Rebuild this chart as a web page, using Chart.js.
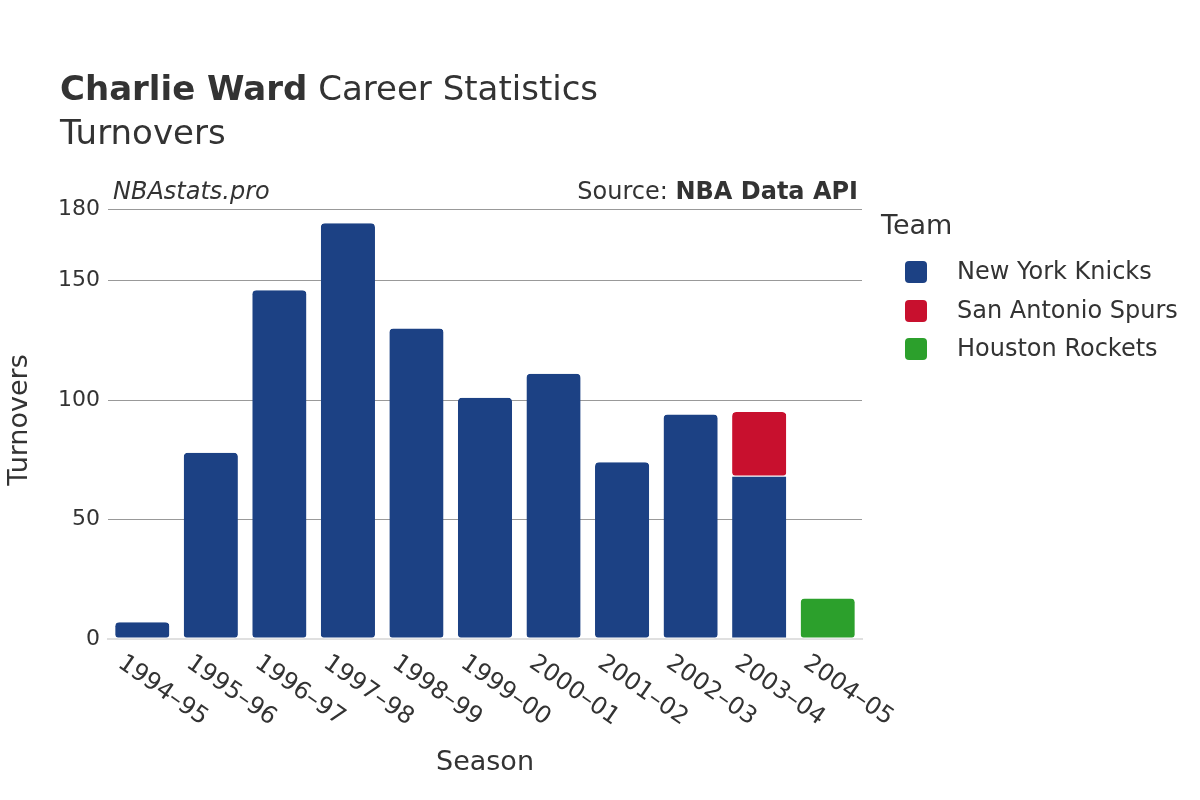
<!DOCTYPE html>
<html><head><meta charset="utf-8">
<script src="https://cdn.jsdelivr.net/npm/chart.js@4"></script>
<style>
body{margin:0;width:1200px;height:800px;position:relative;font-family:"DejaVu Sans",sans-serif;color:#333;background:#fff}
.t{position:absolute;white-space:nowrap}
canvas{position:absolute;left:0;top:0}
.sw{display:inline-block;width:22px;height:22px;border-radius:4px;vertical-align:middle;margin-right:30px}
</style></head><body>
<canvas id="c" width="1200" height="800"></canvas>
<div class="t" style="left:60px;top:68px;font-size:34px"><b>Charlie Ward</b> Career Statistics</div>
<div class="t" style="left:60px;top:112px;font-size:34px">Turnovers</div>
<div class="t" style="left:113px;top:177px;font-size:24px;font-style:italic">NBAstats.pro</div>
<div class="t" style="right:342px;top:177px;font-size:24px">Source: <b>NBA Data API</b></div>
<div class="t" style="left:881px;top:209px;font-size:27px">Team</div>
<div class="t" id="leg" style="left:905px;top:252px;font-size:24px;line-height:38.5px"></div>
<script>
const seasons=["1994–95","1995–96","1996–97","1997–98","1998–99","1999–00","2000–01","2001–02","2002–03","2003–04","2004–05"];
const teams=["New York Knicks","San Antonio Spurs","Houston Rockets"];
const colors=["#1c4184","#c8102e","#2ca02c"];
const nyk=[7,78,146,174,130,101,111,74,94,68,null];
const sas=[null,null,null,null,null,null,null,null,null,27,null];
const hou=[null,null,null,null,null,null,null,null,null,null,17];
const vals=[nyk,sas,hou];
document.getElementById('leg').innerHTML=teams.map((t,i)=>`<div><span class="sw" style="background:${colors[i]}"></span>${t}</div>`).join('');
const labelsPlugin={id:'lbl',afterDraw(ch){const c=ch.ctx,x=ch.scales.x,a=ch.chartArea;c.save();c.fillStyle='#333';c.font='24px "DejaVu Sans"';
seasons.forEach((s,i)=>{c.save();c.translate(x.getPixelForValue(i)-22,a.bottom+22);c.rotate(35*Math.PI/180);c.textBaseline='middle';c.fillText(s,0,0);c.restore();});
c.font='27px "DejaVu Sans"';c.textAlign='center';c.fillText('Season',485,770);
c.translate(27,420);c.rotate(-Math.PI/2);c.fillText('Turnovers',0,0);c.restore();}};
new Chart(document.getElementById('c'),{type:'bar',
data:{labels:seasons,datasets:teams.map((t,i)=>({label:t,data:vals[i],backgroundColor:colors[i],borderColor:'#fff',borderWidth:{top:0,bottom:1,left:0,right:0},borderRadius:4,borderSkipped:false,barPercentage:0.79,categoryPercentage:1}))},
options:{responsive:false,animation:false,layout:{padding:{top:209,bottom:161,right:338,left:0}},
plugins:{legend:{display:false},tooltip:{enabled:false}},
scales:{x:{stacked:true,grid:{display:false},border:{color:'#e0e0e0',width:2},ticks:{display:false},afterFit(s){s.height=0}},
y:{stacked:true,min:0,max:180,ticks:{stepSize:50,color:'#333',font:{size:22,family:'DejaVu Sans'},padding:8},grid:{color:c=>c.tick.value===0?'rgba(0,0,0,0)':'#999',drawTicks:false},border:{display:false},afterFit(s){s.width=108}}}},
plugins:[labelsPlugin]});
</script></body></html>
